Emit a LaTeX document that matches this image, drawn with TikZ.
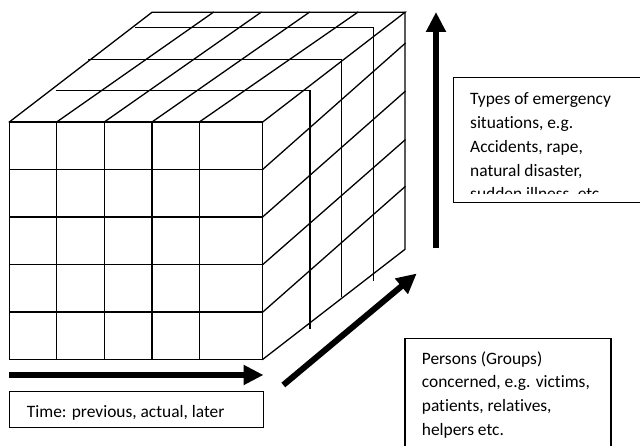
\documentclass[tikz,border=0pt]{standalone}
\usepackage{fontspec}
\setmainfont{Carlito}[Ligatures={NoCommon,NoRare,NoContextual}]
\usetikzlibrary{arrows.meta}
\begin{document}
\begin{tikzpicture}[x=1pt,y=-1pt,
  gridline/.style={line width=1.3pt,line join=miter,line cap=rect},
  bigarrow/.style={line width=6pt,-{Triangle[length=20pt,width=19pt]}},
  boxline/.style={line width=1.3pt},
  txt/.style={anchor=base west,inner sep=0pt,font=\fontsize{17.4}{23.7}\selectfont}]
\useasboundingbox (0,0) rectangle (640,446);
\clip (0,0) rectangle (640,446);
% ---------- front face
\foreach \y in {122,169.4,216.9,264.6,312.1,359.4}
  \draw[gridline] (9.3,\y) -- (262.7,\y);
\foreach \x in {9.3,56.7,104.3,152,199.3,262.7}
  \draw[gridline] (\x,122) -- (\x,359.4);
% ---------- top face
\draw[gridline] (9.3,122) -- (152,12.3) -- (405,12.3) -- (262.7,122);
\draw[gridline] (56.7,122) -- (213.3,12.3);
\draw[gridline] (104.3,122) -- (261,12.3);
\draw[gridline] (152,122) -- (309.3,12.3);
\draw[gridline] (199.3,122) -- (357.7,12.3);
% depth layers
\draw[gridline] (57,90.5) -- (310,90.5) -- (310,328);
\draw[gridline] (88.3,59.3) -- (341.7,59.3) -- (341.7,296.5);
\draw[gridline] (136,27.3) -- (373.3,27.3) -- (373.3,280.5);
% ---------- right face
\draw[gridline] (405,12.3) -- (405,249.3) -- (262.7,359.4);
\draw[gridline] (262.7,169.4) -- (405,43.5);
\draw[gridline] (262.7,216.9) -- (405,91.5);
\draw[gridline] (262.7,264.6) -- (405,140);
\draw[gridline] (262.7,312.1) -- (405,186.7);
% ---------- arrows
\coordinate (timeS) at (9.3,375);
\coordinate (timeE) at (263.5,375);
\coordinate (persS) at (283.3,385);
\coordinate (persE) at (416.7,273.5);
\coordinate (typeS) at (436,248.5);
\coordinate (typeE) at (436,12);
\draw[bigarrow] (timeS) -- (timeE);
\draw[bigarrow] (persS) -- (persE);
\draw[bigarrow] (typeS) -- (typeE);
% ---------- box: types
\draw[boxline] (453.3,77.7) rectangle (650,202.3);
\begin{scope}
  \clip (453.3,77.7) rectangle (640,194);
  \foreach \t [count=\i] in {{Types of emergency},{situations, e.g.},{Accidents, rape,},{natural disaster,},{sudden illness, etc}}
    \node[txt] (ty\i) at (470,{105+(\i-1)*23.7}) {\t};
\end{scope}
% ---------- box: persons
\draw[boxline] (405,338.3) rectangle (611,460);
\foreach \t [count=\i] in {{Persons (Groups)},{concerned, e.g. victims,},{patients, relatives,},{helpers etc.}}
  \node[txt] (pe\i) at (421.7,{364.3+(\i-1)*23.7}) {\t};
% ---------- box: time
\draw[boxline] (9.3,391.7) rectangle (263.3,427.3);
\begin{scope}
  \clip (9.3,391.7) rectangle (263.3,419.5);
  \node[txt] (ti) at (26.7,417.3) {Time: previous, actual, later};
\end{scope}
\end{tikzpicture}
\end{document}
